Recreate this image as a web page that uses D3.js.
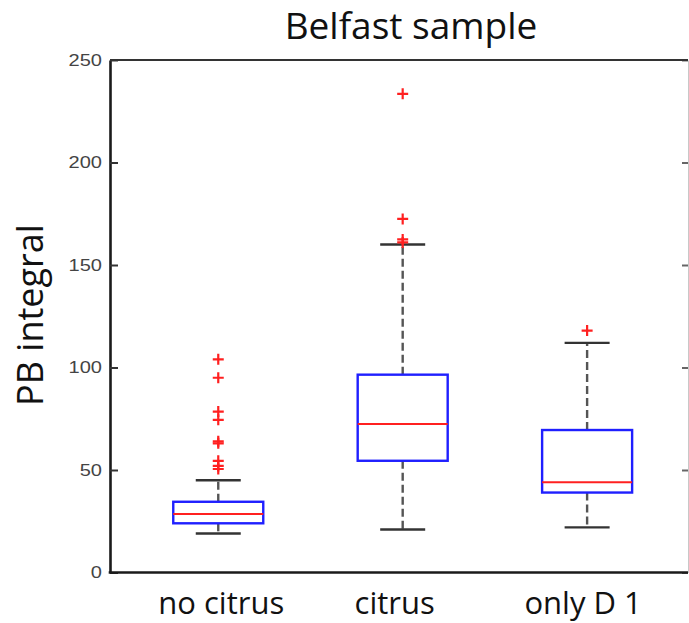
<!DOCTYPE html>
<html>
<head>
<meta charset="utf-8">
<script src="https://cdn.jsdelivr.net/npm/d3@7"></script>
<style>
  html, body { margin: 0; padding: 0; background: #fff; }
  svg { display: block; }
</style>
</head>
<body>
<svg id="chart" width="689" height="623"></svg>
<script>
// ---- data ----
const categories = ["no citrus", "citrus", "only D 1"];
const lowerWhisker = [19, 21, 22];
const q1 = [24, 54.5, 39];
const median = [28.5, 72.5, 44];
const q3 = [34.5, 96.5, 69.5];
const upperWhisker = [45, 160, 112];
const outliers = [
  [104, 95, 78.5, 74.5, 64, 63, 54.5, 52, 50.5],
  [233.5, 172.5, 162.5, 161],
  [118]
];
const yTicks = [0, 50, 100, 150, 200, 250];
const titleText = "Belfast sample";
const yLabelText = "PB integral";

// ---- layout ----
const svg = d3.select("#chart");
const mLeft = 110, mRight = 688, mTop = 60, mBottom = 572.5;

const x = d3.scaleLinear().domain([0.413, 3.547]).range([mLeft, mRight]);
const y = d3.scaleLinear().domain([0, 250]).range([mBottom, mTop]);
const boxHalf = 0.244;   // in category units
const capHalf = 0.122;
const labelShift = [3, -8, -4];

// right axis (light)
const rAxis = svg.append("g").attr("transform", `translate(${mRight},0)`)
  .call(d3.axisRight(y).tickValues(yTicks).tickSize(-6).tickSizeOuter(0).tickFormat(""));
rAxis.select(".domain").attr("stroke", "#c8c8c8").attr("stroke-width", 1);
rAxis.selectAll(".tick line").attr("stroke", "#666").attr("stroke-width", 2);

// top border
svg.append("line").attr("x1", mLeft).attr("x2", mRight).attr("y1", mTop).attr("y2", mTop)
  .attr("stroke", "#333").attr("stroke-width", 2);

// left axis
const lAxis = svg.append("g").attr("transform", `translate(${mLeft},0)`)
  .call(d3.axisLeft(y).tickValues(yTicks).tickSize(-8).tickSizeOuter(0).tickPadding(8));
lAxis.select(".domain").attr("stroke", "#1a1a1a").attr("stroke-width", 2.6);
lAxis.selectAll(".tick line").attr("stroke", "#333").attr("stroke-width", 2);
lAxis.selectAll(".tick text")
  .attr("fill", "#444")
  .style("font-family", "'Liberation Sans', Arial, sans-serif")
  .style("font-size", "17px")
  .attr("transform", "scale(1.18,1)")
  .attr("x", -8 / 1.18);

// bottom axis
svg.append("line").attr("x1", mLeft - 1.3).attr("x2", mRight).attr("y1", mBottom).attr("y2", mBottom)
  .attr("stroke", "#1a1a1a").attr("stroke-width", 2.6);

// boxes
const g = svg.append("g");
categories.forEach((c, i) => {
  const cx = x(i + 1);
  const dash = "8,4";
  // whiskers (dashed)
  g.append("line").attr("x1", cx).attr("x2", cx).attr("y1", y(q3[i])).attr("y2", y(upperWhisker[i]))
    .attr("stroke", "#555").attr("stroke-width", 2.4).attr("stroke-dasharray", dash);
  g.append("line").attr("x1", cx).attr("x2", cx).attr("y1", y(q1[i])).attr("y2", y(lowerWhisker[i]))
    .attr("stroke", "#555").attr("stroke-width", 2.4).attr("stroke-dasharray", dash);
  // caps
  [upperWhisker[i], lowerWhisker[i]].forEach(v => {
    g.append("line").attr("x1", x(i + 1 - capHalf)).attr("x2", x(i + 1 + capHalf))
      .attr("y1", y(v)).attr("y2", y(v)).attr("stroke", "#333").attr("stroke-width", 2.4);
  });
  // box
  g.append("rect").attr("x", x(i + 1 - boxHalf)).attr("y", y(q3[i]))
    .attr("width", x(i + 1 + boxHalf) - x(i + 1 - boxHalf))
    .attr("height", y(q1[i]) - y(q3[i]))
    .attr("fill", "none").attr("stroke", "#1f1fff").attr("stroke-width", 2.4);
  // median
  g.append("line").attr("x1", x(i + 1 - boxHalf)).attr("x2", x(i + 1 + boxHalf))
    .attr("y1", y(median[i])).attr("y2", y(median[i]))
    .attr("stroke", "#ff2020").attr("stroke-width", 2);
  // outliers
  outliers[i].forEach(v => {
    const oy = y(v), s = 5.5;
    g.append("path").attr("d", `M${cx - s},${oy}H${cx + s}M${cx},${oy - s}V${oy + s}`)
      .attr("stroke", "#ff2020").attr("stroke-width", 2.2).attr("fill", "none");
  });
  // category label
  svg.append("text").attr("x", cx + labelShift[i]).attr("y", 614).attr("text-anchor", "middle")
    .style("font-family", "'Open Sans', sans-serif").style("font-size", "31px")
    .style("font-weight", 500)
    .attr("fill", "#111").text(c);
});

// title
svg.append("text").attr("x", 411).attr("y", 39).attr("text-anchor", "middle")
  .style("font-family", "'Open Sans', sans-serif").style("font-size", "37px")
  .style("font-weight", 500)
  .attr("fill", "#111").text(titleText);

// y label
svg.append("text").attr("transform", "translate(43,315) rotate(-90)").attr("text-anchor", "middle")
  .style("font-family", "'Open Sans', sans-serif").style("font-size", "36px")
  .style("font-weight", 500)
  .attr("fill", "#111").text(yLabelText);
</script>
</body>
</html>
